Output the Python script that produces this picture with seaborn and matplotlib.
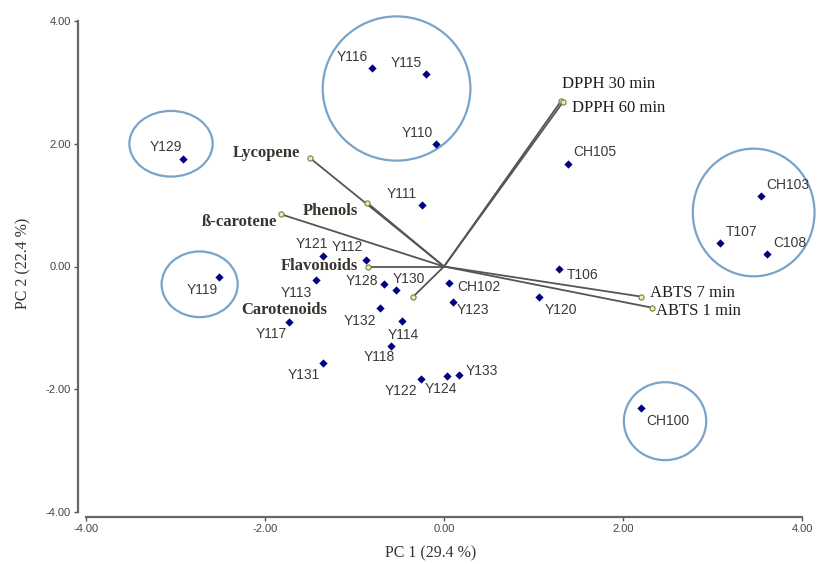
import matplotlib
matplotlib.use("Agg")
import matplotlib.pyplot as plt
from matplotlib.patches import Ellipse
import seaborn as sns
import pandas as pd

# ---- data ----
samples = ["Y116", "Y115", "Y110", "Y129", "CH105", "Y111", "CH103", "T107", "C108",
           "T106", "Y120", "CH102", "Y123", "Y119", "Y121", "Y112", "Y113", "Y128",
           "Y130", "Y132", "Y114", "Y117", "Y118", "Y131", "Y122", "Y124", "Y133", "CH100"]
pc1 = [-0.80, -0.20, -0.09, -2.92, 1.38, -0.25, 3.54, 3.08, 3.61,
       1.28, 1.06, 0.06, 0.10, -2.51, -1.35, -0.87, -1.43, -0.67,
       -0.54, -0.72, -0.47, -1.73, -0.59, -1.35, -0.26, 0.03, 0.17, 2.20]
pc2 = [3.24, 3.13, 2.00, 1.75, 1.67, 1.00, 1.15, 0.39, 0.21,
       -0.04, -0.50, -0.27, -0.58, -0.17, 0.17, 0.11, -0.22, -0.29,
       -0.38, -0.67, -0.88, -0.91, -1.29, -1.57, -1.84, -1.79, -1.77, -2.30]

variables = ["Lycopene", "Phenols", "ß-carotene", "Flavonoids", "Carotenoids",
             "DPPH 30 min", "DPPH 60 min", "ABTS 7 min", "ABTS 1 min"]
load_pc1 = [-1.50, -0.86, -1.82, -0.85, -0.35, 1.31, 1.33, 2.20, 2.32]
load_pc2 = [1.77, 1.04, 0.85, 0.00, -0.50, 2.70, 2.68, -0.49, -0.67]

group_x = [-3.05, -0.53, -2.73, 3.46, 2.47]
group_y = [2.00, 2.90, -0.29, 0.88, -2.52]
group_w = [0.93, 1.65, 0.85, 1.36, 0.92]
group_h = [1.07, 2.35, 1.07, 2.08, 1.27]

ticks = [-4.0, -2.0, 0.0, 2.0, 4.0]
xlabel = "PC 1 (29.4 %)"
ylabel = "PC 2 (22.4 %)"

# ---- label placement (offset pixels, alignment) ----
sample_off = {
    "Y116": (-4, 11, "right"), "Y115": (-4, 11, "right"), "Y110": (-3, 11, "right"),
    "Y129": (-1, 12, "right"), "CH105": (6, 12, "left"), "Y111": (-5, 11, "right"),
    "CH103": (5, 11, "left"), "T107": (6, 11, "left"), "C108": (6, 11, "left"),
    "T106": (8, -6, "left"), "Y120": (6, -13, "left"), "CH102": (8, -4, "left"),
    "Y123": (4, -8, "left"), "Y119": (-2, -13, "right"), "Y121": (5, 12, "right"),
    "Y112": (-3, 13, "right"), "Y113": (-4, -13, "right"), "Y128": (-6, 3, "right"),
    "Y130": (-3, 11, "left"), "Y132": (-3, -13, "right"), "Y114": (1, -14, "center"),
    "Y117": (-2, -12, "right"), "Y118": (4, -11, "right"), "Y131": (-3, -12, "right"),
    "Y122": (-3, -12, "right"), "Y124": (-6, -13, "center"), "Y133": (6, 4, "left"),
    "CH100": (5, -13, "left"),
}
var_off = {
    "Lycopene": (-10, 5, "right", "bold"), "Phenols": (-9, -8, "right", "bold"),
    "ß-carotene": (-4, -8, "right", "bold"), "Flavonoids": (-10, 1, "right", "bold"),
    "Carotenoids": (-86, -13, "right", "bold"), "DPPH 30 min": (1, 17, "left", "normal"),
    "DPPH 60 min": (9, -6, "left", "normal"), "ABTS 7 min": (9, 4, "left", "normal"),
    "ABTS 1 min": (4, -3, "left", "normal"),
}

sns.set_theme(style="ticks")
plt.rcParams["font.family"] = ["Liberation Sans", "DejaVu Sans"]

fig = plt.figure(figsize=(8.2, 5.64), dpi=100)
ax = fig.add_axes([86 / 820, 52 / 564, 716 / 820, 491 / 564])

df = pd.DataFrame({"sample": samples, "pc1": pc1, "pc2": pc2})
sns.scatterplot(data=df, x="pc1", y="pc2", marker="D", s=15, color="#000080",
                edgecolor="#000080", linewidth=0.3, ax=ax, zorder=4)

# loading vectors
for vx, vy in zip(load_pc1, load_pc2):
    ax.plot([0, vx], [0, vy], color="#555555", lw=1.3, zorder=2,
            solid_capstyle="round")
ax.scatter(load_pc1, load_pc2, s=14, facecolor="#eeeeaa", edgecolor="#7a7a50",
           linewidth=0.8, zorder=5)

# group circles
for cx, cy, w, h in zip(group_x, group_y, group_w, group_h):
    ax.add_patch(Ellipse((cx, cy), w, h, fill=False, edgecolor="#7ba3c8",
                         lw=1.6, clip_on=False, zorder=1))

for name, x, y in zip(samples, pc1, pc2):
    dx, dy, ha = sample_off[name]
    ax.annotate(name, (x, y), xytext=(dx, dy), textcoords="offset pixels",
                ha=ha, va="center", fontsize=10, color="#3a3a3a", zorder=6)

for name, x, y in zip(variables, load_pc1, load_pc2):
    dx, dy, ha, wt = var_off[name]
    col = "#3a342e" if wt == "bold" else "#1e1e1e"
    ax.annotate(name, (x, y), xytext=(dx, dy), textcoords="offset pixels",
                ha=ha, va="center", fontsize=12, color=col, fontweight=wt,
                family=["Liberation Serif", "DejaVu Serif"], zorder=6)

ax.set_xlim(-4, 4)
ax.set_ylim(-4, 4)
ax.set_xticks(ticks)
ax.set_yticks(ticks)
ax.set_xticklabels([f"{t:.2f}" for t in ticks])
ax.set_yticklabels([f"{t:.2f}" for t in ticks])
ax.tick_params(axis="both", labelsize=8, colors="#555555", labelcolor="#444444",
               length=3, width=1, pad=2)
for s in ["left", "bottom"]:
    ax.spines[s].set_color("#666666")
    ax.spines[s].set_linewidth(1.6)
sns.despine(ax=ax, offset=dict(left=5.8, bottom=3.6), trim=True)

ax.set_xlabel(xlabel, fontsize=11.5, color="#333333",
              family=["Liberation Serif", "DejaVu Serif"])
ax.set_ylabel(ylabel, fontsize=11.5, color="#333333",
              family=["Liberation Serif", "DejaVu Serif"])
ax.xaxis.set_label_coords(0.482, -0.069)
ax.yaxis.set_label_coords(-0.076, 0.507)

fig.savefig("out.png", dpi=100)
